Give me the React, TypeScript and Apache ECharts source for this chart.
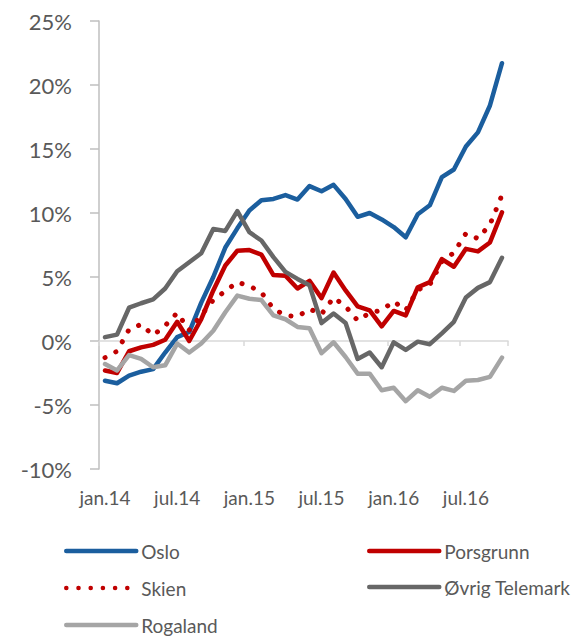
import React, { useEffect, useRef } from 'react';
import * as echarts from 'echarts';

const months = [
  'jan.14', 'feb.14', 'mar.14', 'apr.14', 'mai.14', 'jun.14', 'jul.14', 'aug.14', 'sep.14', 'okt.14', 'nov.14', 'des.14',
  'jan.15', 'feb.15', 'mar.15', 'apr.15', 'mai.15', 'jun.15', 'jul.15', 'aug.15', 'sep.15', 'okt.15', 'nov.15', 'des.15',
  'jan.16', 'feb.16', 'mar.16', 'apr.16', 'mai.16', 'jun.16', 'jul.16', 'aug.16', 'sep.16', 'okt.16',
];

const oslo = [-3.1, -3.3, -2.7, -2.4, -2.2, -0.9, 0.3, 0.7, 3.0, 5.0, 7.3, 8.8, 10.2, 11.0, 11.1, 11.4, 11.05, 12.1, 11.7, 12.2, 11.1, 9.7, 10.0, 9.5, 8.9, 8.1, 9.9, 10.6, 12.8, 13.4, 15.2, 16.3, 18.4, 21.7];
const porsgrunn = [-2.3, -2.5, -0.8, -0.5, -0.3, 0.1, 1.5, 0.0, 1.7, 3.95, 5.9, 7.05, 7.1, 6.75, 5.15, 5.1, 4.1, 4.7, 3.35, 5.35, 3.95, 2.7, 2.4, 1.15, 2.35, 2.0, 4.2, 4.6, 6.4, 5.8, 7.2, 7.0, 7.7, 10.05];
const skien = [-1.3, -0.8, 0.9, 1.3, 0.45, 1.2, 2.2, 0.85, 2.0, 3.2, 3.9, 4.6, 4.3, 3.8, 2.5, 2.0, 1.9, 2.5, 2.1, 3.4, 2.7, 1.6, 2.2, 2.4, 3.1, 2.4, 4.0, 4.4, 6.2, 6.9, 8.4, 8.0, 9.1, 11.4];
const ovrigTelemark = [0.3, 0.5, 2.6, 2.95, 3.25, 4.1, 5.45, 6.15, 6.85, 8.75, 8.6, 10.15, 8.5, 7.85, 6.55, 5.4, 4.85, 4.35, 1.4, 2.15, 1.4, -1.4, -0.9, -2.05, -0.1, -0.7, -0.05, -0.25, 0.6, 1.5, 3.4, 4.15, 4.6, 6.5];
const rogaland = [-1.8, -2.3, -1.1, -1.4, -2.05, -1.9, -0.2, -0.9, -0.2, 0.8, 2.25, 3.55, 3.3, 3.2, 2.0, 1.7, 1.1, 1.0, -0.95, -0.1, -1.25, -2.55, -2.55, -3.85, -3.65, -4.7, -3.85, -4.35, -3.65, -3.9, -3.1, -3.05, -2.8, -1.3];

const seriesNames = ['Oslo', 'Porsgrunn', 'Skien', 'Øvrig Telemark', 'Rogaland'];
const seriesColors = ['#1b5e9e', '#c00000', '#c00000', '#676767', '#a5a5a5'];

const FONT = 'Lato, "Open Sans", sans-serif';
const TEXT = '#595959';

export default function App() {
  const ref = useRef<HTMLDivElement>(null);

  useEffect(() => {
    document.body.style.margin = '0';
    const chart = echarts.init(ref.current!, null, { renderer: 'svg' });
    const values = [oslo, porsgrunn, skien, ovrigTelemark, rogaland];
    const series = seriesNames.map((name, k) => ({
      name,
      type: 'line',
      xAxisIndex: 0,
      data: values[k],
      symbol: 'none',
      itemStyle: { color: seriesColors[k] },
      lineStyle: {
        color: seriesColors[k],
        width: k === 2 ? 5 : 4.5,
        cap: 'round',
        join: 'round',
        type: k === 2 ? [0.1, 12.1] : 'solid',
      },
    }));

    const legendCommon = {
      orient: 'horizontal',
      itemWidth: 70,
      itemHeight: 14,
      padding: 0,
      textStyle: { fontFamily: FONT, fontSize: 19, color: TEXT },
      lineStyle: { width: 4.5, cap: 'round' },
      itemStyle: { color: 'transparent', borderWidth: 0, opacity: 0 },
    };

    chart.setOption({
      animation: false,
      grid: { left: 99, right: 68, top: 21, bottom: 167, containLabel: false },
      xAxis: [
        {
          type: 'category',
          data: months,
          boundaryGap: true,
          position: 'bottom',
          axisLine: { onZero: true, lineStyle: { color: '#d9d9d9', width: 1.5 } },
          axisTick: { show: true, interval: 5, length: 5, lineStyle: { color: '#d9d9d9', width: 1.5 } },
          axisLabel: { show: false },
          splitLine: { show: false },
        },
        {
          type: 'category',
          data: months,
          boundaryGap: true,
          position: 'bottom',
          axisLine: { show: false, onZero: false },
          axisTick: { show: false },
          axisLabel: {
            show: true,
            interval: 5,
            margin: 19,
            fontFamily: FONT,
            fontSize: 19,
            color: TEXT,
          },
          splitLine: { show: false },
        },
      ],
      yAxis: {
        type: 'value',
        min: -10,
        max: 25,
        interval: 5,
        axisLine: { show: true, lineStyle: { color: '#bfbfbf', width: 1.5 } },
        axisTick: { show: true, length: 9, lineStyle: { color: '#bfbfbf', width: 1.5 } },
        axisLabel: {
          formatter: '{value}%',
          margin: 27,
          fontFamily: FONT,
          fontSize: 22,
          color: TEXT,
        },
        splitLine: { show: false },
      },
      legend: [
        { ...legendCommon, left: 64, top: 541.5, data: ['Oslo'] },
        { ...legendCommon, left: 64, top: 578.5, data: ['Skien'] },
        { ...legendCommon, left: 64, top: 615.5, data: ['Rogaland'] },
        { ...legendCommon, left: 367, top: 541.5, data: ['Porsgrunn'] },
        { ...legendCommon, left: 367, top: 577.5, data: ['Øvrig Telemark'] },
      ],
      series,
    });
    return () => chart.dispose();
  }, []);

  return <div ref={ref} style={{ width: 576, height: 636 }} />;
}
